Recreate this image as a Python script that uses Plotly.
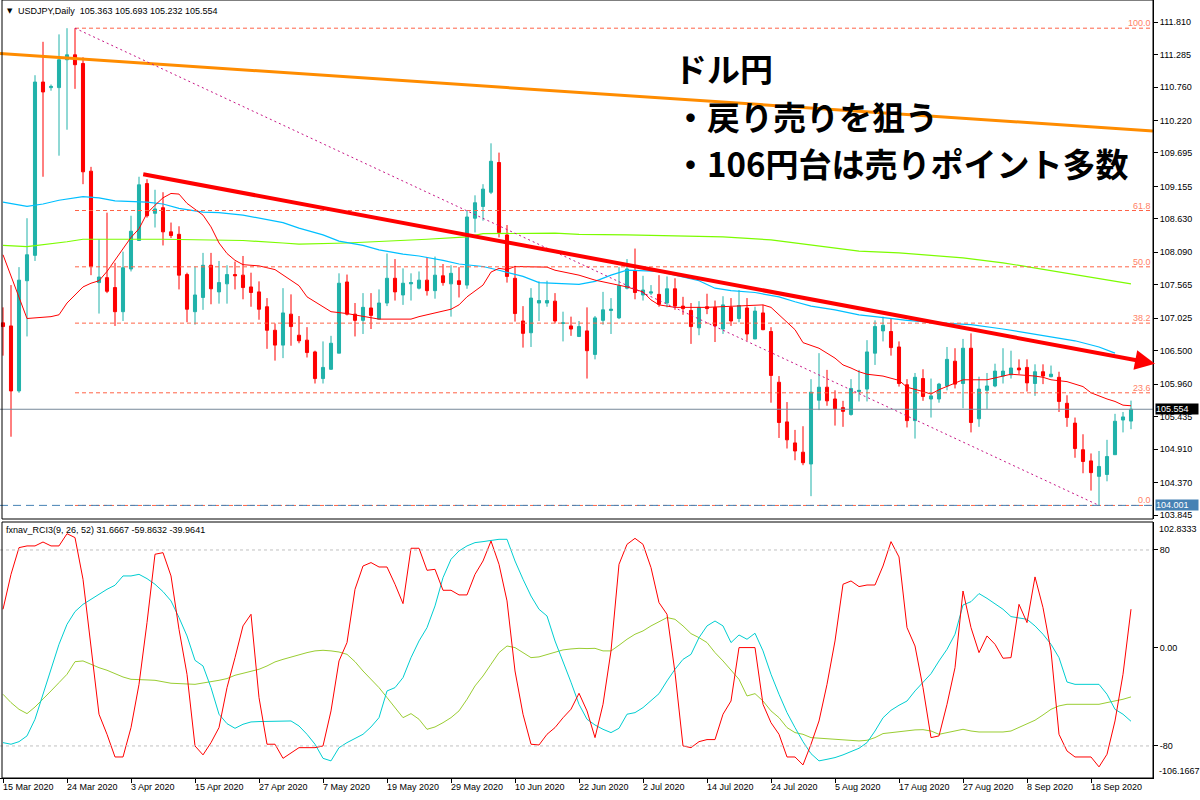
import plotly.graph_objects as go

# ---------------- data ----------------
bar_idx = list(range(142))

date_tick_idx = [0, 8, 16, 24, 32, 40, 48, 56, 64, 72, 80, 88, 96, 104, 112, 120, 128, 136]
date_tick_labels = ["15 Mar 2020", "24 Mar 2020", "3 Apr 2020", "15 Apr 2020", "27 Apr 2020",
                    "7 May 2020", "19 May 2020", "29 May 2020", "10 Jun 2020", "22 Jun 2020",
                    "2 Jul 2020", "14 Jul 2020", "24 Jul 2020", "5 Aug 2020", "17 Aug 2020",
                    "27 Aug 2020", "8 Sep 2020", "18 Sep 2020"]

price_ticks = [111.810, 111.285, 110.760, 110.220, 109.695, 109.155, 108.630, 108.090,
               107.565, 107.025, 106.500, 105.960, 105.435, 104.910, 104.370, 103.845]

opens = [106.95,106.90,105.85,107.63,108.04,110.84,110.75,110.75,111.20,111.28,
         111.14,109.40,107.60,107.68,107.52,107.13,107.82,108.28,109.20,108.72,
         108.81,108.42,108.38,107.73,107.13,107.36,107.88,107.45,107.58,107.73,
         107.72,107.53,107.45,107.21,106.83,106.59,107.09,106.75,106.67,106.48,
         106.05,106.20,106.46,107.61,107.09,106.99,107.19,107.01,107.27,107.67,
         107.40,107.58,107.51,107.64,107.47,107.71,107.58,107.63,107.56,108.64,
         108.83,109.06,109.54,108.37,107.67,106.98,106.79,107.27,107.27,107.30,
         106.94,106.90,106.73,106.82,106.44,106.99,107.15,107.03,107.51,107.79,
         107.40,107.43,107.41,107.27,107.50,107.22,107.15,106.87,107.21,107.20,
         106.85,107.20,107.02,107.19,106.69,107.11,106.81,105.99,105.35,105.01,
         104.86,104.67,105.70,105.91,105.72,105.58,105.47,105.84,105.88,106.46,
         106.82,106.81,106.56,105.95,105.37,106.05,105.72,105.72,105.93,106.33,
         105.97,106.54,105.40,105.86,105.93,106.09,106.11,106.22,106.23,105.97,
         106.16,106.08,106.07,105.65,105.33,104.90,104.72,104.47,104.50,104.82,
         105.38,105.363]
highs = [107.20,107.56,107.85,108.64,110.95,111.49,110.80,111.61,111.71,111.71,
         111.24,109.47,108.30,108.73,107.92,108.10,108.68,109.31,109.27,109.10,
         109.06,108.57,108.51,107.76,107.86,108.08,108.08,107.95,107.88,107.94,
         108.03,107.76,107.62,107.35,106.94,107.51,107.41,107.06,106.88,106.50,
         106.65,106.74,107.75,107.73,107.27,107.43,107.43,107.49,108.07,107.98,
         107.83,107.75,107.78,108.01,108.02,107.90,107.88,107.85,108.77,109.01,
         109.19,109.85,109.70,108.53,107.87,107.22,107.51,107.62,107.63,107.43,
         107.13,107.05,106.98,107.20,107.06,107.45,107.35,107.85,107.98,108.15,
         107.71,107.56,107.72,107.70,107.67,107.37,107.27,107.30,107.42,107.31,
         107.38,107.35,107.48,107.35,107.21,107.24,106.88,106.09,105.67,105.22,
         105.28,106.04,106.46,106.19,105.86,105.69,106.04,106.19,106.67,106.99,
         107.05,107.02,106.65,106.04,106.14,106.20,106.05,105.98,106.56,106.54,
         106.69,106.78,106.08,106.14,106.29,106.54,106.50,106.36,106.36,106.28,
         106.28,106.26,106.16,105.78,105.42,105.15,104.84,104.88,105.06,105.48,
         105.51,105.693]
lows = [106.42,105.11,105.82,106.73,107.95,109.31,110.70,109.65,110.07,110.73,
        109.19,107.72,107.10,107.43,106.90,106.98,107.78,108.28,108.65,108.49,
        108.20,108.32,107.49,106.96,106.92,107.16,107.25,107.26,107.26,107.49,
        107.33,107.21,107.00,106.53,106.34,106.38,106.58,106.62,106.39,105.97,
        105.97,106.19,106.46,107.07,106.73,106.77,106.85,107.01,107.22,107.31,
        107.24,107.31,107.49,107.39,107.34,107.55,107.05,107.36,107.50,108.41,
        108.60,109.03,108.33,107.60,106.97,106.55,106.56,106.98,107.21,106.94,
        106.65,106.74,106.72,106.05,106.36,106.92,106.77,107.01,107.49,107.33,
        107.31,107.40,107.21,107.20,107.16,107.08,106.61,106.75,107.09,106.64,
        106.77,106.90,106.96,106.66,106.69,106.83,105.66,105.09,104.92,104.73,
        104.65,104.15,105.54,105.61,105.29,105.27,105.45,105.68,105.68,106.27,
        106.65,106.42,105.92,105.26,105.08,105.69,105.42,105.66,105.86,105.89,
        105.57,105.18,105.27,105.56,105.91,105.97,106.05,106.12,105.84,105.77,
        105.96,106.07,105.51,105.27,104.77,104.52,104.24,104.00,104.39,104.82,
        105.18,105.232]
closes = [106.89,105.85,107.64,108.05,110.84,110.68,110.77,111.20,111.28,111.12,
          109.39,107.86,107.69,107.46,107.13,107.84,108.43,109.18,108.68,108.79,
          108.42,108.36,107.72,107.17,107.40,107.88,107.50,107.60,107.73,107.71,
          107.52,107.44,107.17,106.83,106.59,107.11,106.89,106.66,106.47,106.05,
          106.23,106.62,107.59,107.09,106.99,107.20,107.07,107.27,107.67,107.45,
          107.59,107.60,107.64,107.47,107.72,107.60,107.75,107.57,108.66,108.89,
          109.11,109.56,108.41,107.70,107.10,106.78,107.35,107.31,107.31,106.98,
          106.95,106.85,106.89,106.50,107.03,107.16,107.17,107.55,107.82,107.44,
          107.48,107.45,107.25,107.50,107.22,107.18,106.89,107.20,107.18,106.90,
          107.24,106.98,107.23,106.77,107.14,106.84,106.10,105.34,105.06,104.88,
          104.69,105.83,105.91,105.69,105.56,105.52,105.89,105.86,106.48,106.89,
          106.91,106.55,105.97,105.37,106.07,105.76,105.77,105.96,106.36,105.96,
          106.54,105.34,105.88,105.93,106.17,106.17,106.22,106.19,105.98,106.16,
          106.09,106.12,105.68,105.42,104.92,104.71,104.53,104.63,104.79,105.36,
          105.43,105.554]

ma_fast_idx = [0,3,6,7,8,10,11,12,13,14,15,16,17,18,19,20,21,22,23,25,26,27,28,29,30,32,34,35,37,38,
               40,41,43,45,47,51,52,54,56,57,58,60,61,62,63,64,66,68,69,71,72,74,76,78,80,81,82,84,88,90,
               92,95,96,97,99,100,102,104,105,106,107,108,110,112,113,115,116,117,119,120,123,125,126,129,130,
               131,133,135,136,138,139,140,141]
ma_fast_val = [108.05,107.02,107.05,107.08,107.27,107.53,107.59,107.63,107.78,107.96,108.15,108.33,108.47,
               108.72,108.85,108.97,109.04,109.03,108.88,108.69,108.50,108.24,108.07,107.96,107.89,107.87,
               107.81,107.72,107.55,107.37,107.21,107.13,107.10,107.05,107.01,107.01,107.05,107.11,107.17,
               107.24,107.37,107.56,107.77,107.83,107.81,107.86,107.86,107.85,107.80,107.74,107.72,107.64,
               107.59,107.53,107.45,107.32,107.24,107.20,107.20,107.21,107.23,107.24,107.20,107.08,106.84,
               106.63,106.54,106.38,106.27,106.22,106.16,106.12,106.09,106.02,105.91,105.84,105.80,105.87,
               105.98,106.03,106.03,106.09,106.12,106.09,106.07,106.03,106.00,105.92,105.82,105.72,105.68,
               105.62,105.61]

ma_mid_idx = [0,3,5,7,10,12,14,18,20,22,25,27,30,32,35,37,40,42,45,47,50,52,55,57,60,62,65,67,70,72,
              74,76,78,80,82,84,87,89,91,94,97,99,101,104,107,109,113,117,121,125,130,134,137,139]
ma_mid_val = [108.90,108.83,108.87,108.93,108.99,108.97,108.92,108.90,108.87,108.80,108.74,108.73,108.69,
              108.64,108.57,108.48,108.37,108.27,108.20,108.13,108.06,108.03,107.96,107.90,107.86,107.80,
              107.70,107.60,107.58,107.57,107.62,107.72,107.80,107.79,107.78,107.72,107.63,107.51,107.47,
              107.44,107.37,107.29,107.22,107.16,107.08,107.05,106.99,106.95,106.92,106.85,106.75,106.66,
              106.56,106.46]

ma_slow_idx = [0,3,8,10,20,30,35,37,43,45,48,53,58,60,69,72,78,90,96,101,107,112,120,125,131,137,141]
ma_slow_val = [108.20,108.18,108.26,108.30,108.30,108.28,108.24,108.22,108.24,108.25,108.27,108.30,108.34,
               108.39,108.40,108.38,108.37,108.34,108.29,108.21,108.11,108.08,108.00,107.92,107.79,107.66,
               107.58]

long_line_idx = [-0.375, 143.75]
long_line_val = [111.30, 110.05]

trend_idx = [17.34, 144.0]
trend_val = [109.355, 106.29]

fib_anchor_idx = [9, 137]
fib_anchor_val = [111.71, 104.00]
fib_levels = [0.0, 23.6, 38.2, 50.0, 61.8, 100.0]

last_price = 105.554
low_price = 104.001

rci9 = [31.6,60.1,81.9,83.3,83.3,86.5,83.3,83.3,93.3,90.1,
        56.1,0.3,-54.1,-70.5,-89.0,-89.0,-65.0,-29.7,20.7,76.5,
        77.8,58.8,15.2,-21.5,-80.0,-87.3,-77.3,-65.0,-32.4,-7.9,
        18.0,27.5,-40.5,-78.6,-78.6,-90.1,-85.4,-81.4,-81.4,-81.4,
        -80.0,-51.4,-10.6,4.4,47.9,66.9,69.7,66.1,66.1,52.0,
        36.2,81.4,81.4,63.4,64.2,47.1,47.1,43.3,43.3,60.1,
        71.0,87.3,68.3,38.4,-18.8,-54.1,-78.6,-79.2,-70.5,-65.0,
        -57.0,-50.0,-37.0,-51.4,-73.2,-46.0,-2.4,68.3,84.6,89.5,
        84.6,65.6,37.0,27.5,-20.1,-80.0,-81.4,-76.5,-74.8,-74.8,
        -54.1,-43.3,0.3,0.3,0.3,-46.0,-61.0,-70.5,-89.0,-89.0,
        -95.5,-78.6,-59.6,-29.7,5.7,52.0,54.7,50.1,51.4,51.4,
        66.9,86.8,74.3,16.6,1.6,-32.4,-73.2,-71.8,-46.0,-16.1,
        46.5,16.6,-3.8,9.8,3.0,-8.4,-7.9,35.6,20.7,58.0,
        32.9,-2.4,-70.5,-84.1,-89.0,-89.0,-89.0,-97.1,-86.8,-59.6,
        -21.5,31.6667]
rci26 = [-77.3,-78.6,-76.5,-71.8,-58.2,-37.8,-16.1,3.0,19.3,29.7,
         35.6,39.7,43.8,47.9,51.2,58.8,58.8,60.1,56.6,52.0,
         46.0,38.4,24.8,9.8,-10.1,-14.7,-32.4,-54.1,-61.8,-65.6,
         -62.3,-60.4,-60.1,-60.1,-60.1,-60.1,-59.6,-63.7,-70.5,-78.6,
         -90.1,-92.2,-81.4,-77.3,-73.7,-70.5,-64.5,-56.9,-35.1,-32.4,
         -24.2,-7.9,5.7,16.6,34.3,57.4,72.4,79.2,83.3,86.0,
         86.8,87.9,88.7,88.7,71.0,56.1,42.4,31.6,26.1,5.7,
         -10.6,-28.0,-46.0,-58.2,-62.9,-66.4,-69.1,-65.6,-54.1,-52.8,
         -48.7,-43.3,-37.3,-26.9,-17.4,-9.3,-5.2,8.4,18.0,22.0,
         18.0,4.4,10.6,7.1,12.0,-2.4,-21.5,-37.8,-52.8,-65.0,
         -76.5,-86.3,-92.2,-90.9,-89.5,-87.3,-84.6,-81.9,-77.3,-67.8,
         -57.0,-50.9,-46.8,-43.3,-35.1,-28.3,-21.0,-10.6,-1.1,11.2,
         35.1,37.8,44.4,40.5,36.2,31.6,25.6,24.8,23.4,18.0,
         11.2,3.0,-7.9,-27.8,-29.7,-29.7,-29.7,-29.7,-37.8,-50.1,
         -54.1,-59.8632]
rci52 = [-37.8,-44.6,-50.1,-53.6,-48.2,-41.9,-35.1,-28.3,-21.5,-11.2,
         -10.6,-13.3,-16.1,-18.2,-21.0,-23.7,-25.6,-25.6,-26.1,-26.4,
         -27.5,-28.8,-29.1,-29.7,-29.7,-28.6,-27.8,-26.4,-25.0,-22.3,
         -20.7,-18.8,-17.4,-14.7,-11.4,-9.3,-7.3,-5.2,-3.8,-2.4,
         -1.9,-2.4,-3.3,-5.2,-11.2,-18.8,-25.6,-32.4,-40.5,-48.7,
         -56.9,-53.6,-58.2,-66.4,-64.5,-61.0,-56.9,-51.4,-41.9,-31.0,
         -22.9,-13.3,-3.8,1.6,0.3,-3.8,-7.9,-7.3,-5.4,-3.0,
         -1.6,-0.8,-0.3,-0.5,-0.3,-2.4,-2.4,2.2,7.1,11.2,
         13.9,18.0,21.5,24.8,23.4,18.0,11.7,8.4,4.4,-3.8,
         -10.6,-18.2,-25.6,-39.2,-37.3,-43.3,-51.4,-56.9,-65.0,-69.1,
         -70.5,-73.2,-73.7,-74.3,-74.6,-75.1,-75.4,-75.9,-75.4,-73.2,
         -69.9,-69.1,-68.3,-67.8,-66.9,-66.7,-67.8,-70.5,-69.1,-68.3,
         -66.4,-67.8,-68.6,-68.6,-68.6,-68.6,-67.8,-65.0,-62.3,-59.0,
         -54.7,-50.1,-47.3,-46.0,-46.0,-46.0,-46.0,-46.0,-44.6,-43.3,
         -41.9,-39.9641]
rci_ticks = [80, 0, -80]
rci_tick_labels = ["80", "0.00", "-80"]
rci_bounds = [-106.1667, 102.8333]
rci_levels = [80, -80]

headline = ["ドル円", "・戻り売りを狙う", "・106円台は売りポイント多数"]

# ---------------- layout constants ----------------
W, H = 1200, 800
ML, MR, MT, MB = 0, 47, 0, 22
PH = H - MT - MB              # 778
PW = W - ML - MR              # 1153
main_dom = [1 - 519 / PH, 1]
rci_dom = [0, 1 - 522 / PH]
x_range = [-0.375, 143.75]
y_range = [103.781, 112.1654]
FONT = "Liberation Sans, Arial, sans-serif"

fig = go.Figure()

# long-term line
fig.add_trace(go.Scatter(x=long_line_idx, y=long_line_val, mode="lines",
                         line=dict(color="#FF8C00", width=3), xaxis="x", yaxis="y", hoverinfo="skip"))

# candles
fig.add_trace(go.Candlestick(x=bar_idx, open=opens, high=highs, low=lows, close=closes,
                             increasing=dict(line=dict(color="#20B2AA", width=1), fillcolor="#20B2AA"),
                             decreasing=dict(line=dict(color="#FF0000", width=1), fillcolor="#FF0000"),
                             whiskerwidth=0, xaxis="x", yaxis="y", hoverinfo="skip"))

# moving averages
fig.add_trace(go.Scatter(x=ma_slow_idx, y=ma_slow_val, mode="lines",
                         line=dict(color="#7CFC00", width=1.2), xaxis="x", yaxis="y", hoverinfo="skip"))
fig.add_trace(go.Scatter(x=ma_mid_idx, y=ma_mid_val, mode="lines",
                         line=dict(color="#00BFFF", width=1.2), xaxis="x", yaxis="y", hoverinfo="skip"))
fig.add_trace(go.Scatter(x=ma_fast_idx, y=ma_fast_val, mode="lines",
                         line=dict(color="#FF0000", width=1), xaxis="x", yaxis="y", hoverinfo="skip"))

# RCI
fig.add_trace(go.Scatter(x=bar_idx, y=rci52, mode="lines",
                         line=dict(color="#9ACD32", width=1), xaxis="x", yaxis="y2", hoverinfo="skip"))
fig.add_trace(go.Scatter(x=bar_idx, y=rci26, mode="lines",
                         line=dict(color="#00CED1", width=1), xaxis="x", yaxis="y2", hoverinfo="skip"))
fig.add_trace(go.Scatter(x=bar_idx, y=rci9, mode="lines",
                         line=dict(color="#FF0000", width=1), xaxis="x", yaxis="y2", hoverinfo="skip"))

shapes = []
# fibonacci levels
fib_span = fib_anchor_val[0] - fib_anchor_val[1]
for lv in fib_levels:
    yv = fib_anchor_val[1] + fib_span * lv / 100.0
    shapes.append(dict(type="line", xref="x", yref="y", x0=fib_anchor_idx[0], x1=x_range[1],
                       y0=yv, y1=yv, line=dict(color="#FF6347", width=1, dash="4px,3px")))
# fib diagonal
shapes.append(dict(type="line", xref="x", yref="y", x0=fib_anchor_idx[0], x1=fib_anchor_idx[1],
                   y0=fib_anchor_val[0], y1=fib_anchor_val[1],
                   line=dict(color="#C71585", width=1, dash="2px,3px")))
# price lines
shapes.append(dict(type="line", xref="paper", yref="y", x0=0, x1=1, y0=last_price, y1=last_price,
                   line=dict(color="#778899", width=1)))
shapes.append(dict(type="line", xref="paper", yref="y", x0=0, x1=1, y0=low_price, y1=low_price,
                   line=dict(color="#4682B4", width=1, dash="8px,5px")))
# RCI levels
for lv in rci_levels:
    shapes.append(dict(type="line", xref="paper", yref="y2", x0=0, x1=1, y0=lv, y1=lv,
                       line=dict(color="#C0C0C0", width=1, dash="3px,3px")))
# pane borders
shapes.append(dict(type="rect", xref="paper", yref="paper", x0=2 / PW, x1=1, y0=main_dom[0], y1=1,
                   line=dict(color="black", width=1)))
shapes.append(dict(type="rect", xref="paper", yref="paper", x0=2 / PW, x1=1, y0=rci_dom[0], y1=rci_dom[1],
                   line=dict(color="black", width=1)))

annotations = []
# fib labels
for lv in fib_levels:
    yv = fib_anchor_val[1] + fib_span * lv / 100.0
    annotations.append(dict(x=1, xref="paper", y=yv, yref="y", text=f"{lv:.1f}", showarrow=False,
                            xanchor="right", yanchor="bottom", xshift=-1, yshift=-1,
                            font=dict(family=FONT, size=9, color="#FF7F66"), borderpad=0))
# trend arrow
annotations.append(dict(x=trend_idx[1], y=trend_val[1], xref="x", yref="y",
                        ax=trend_idx[0], ay=trend_val[0], axref="x", ayref="y",
                        showarrow=True, arrowhead=2, arrowsize=1, arrowwidth=4,
                        arrowcolor="#FF0000", standoff=0, text=""))
# headline text
for k, (txt, ypx) in enumerate(zip(headline, [68, 116, 163])):
    annotations.append(dict(x=672 / PW, y=1 - ypx / PH, xref="paper", yref="paper",
                            text=f"<b>{txt}</b>", showarrow=False, xanchor="left", yanchor="middle",
                            font=dict(family="Noto Sans CJK JP", size=33, color="black")))
# header texts
annotations.append(dict(x=5 / PW, y=1 - 11 / PH, xref="paper", yref="paper", text="▼",
                        showarrow=False, xanchor="left", yanchor="middle",
                        font=dict(family="DejaVu Sans", size=7, color="black")))
annotations.append(dict(x=16 / PW, y=1 - 11 / PH, xref="paper", yref="paper",
                        text=f"USDJPY,Daily  {opens[-1]:.3f} {highs[-1]:.3f} {lows[-1]:.3f} {closes[-1]:.3f}",
                        showarrow=False, xanchor="left", yanchor="middle",
                        font=dict(family=FONT, size=9, color="black")))
annotations.append(dict(x=4 / PW, y=1 - 530 / PH, xref="paper", yref="paper",
                        text=f"fxnav_RCI3(9, 26, 52) {rci9[-1]:.4f} {rci26[-1]:.4f} {rci52[-1]:.4f}",
                        showarrow=False, xanchor="left", yanchor="middle",
                        font=dict(family=FONT, size=9, color="black")))
# price boxes
annotations.append(dict(x=1, xref="paper", y=last_price, yref="y", text=f"{last_price:.3f}",
                        showarrow=False, xanchor="left", yanchor="middle", xshift=2,
                        bgcolor="black", font=dict(family=FONT, size=9, color="white"),
                        borderpad=0, width=42, align="left"))
annotations.append(dict(x=1, xref="paper", y=low_price, yref="y", text=f"{low_price:.3f}",
                        showarrow=False, xanchor="left", yanchor="middle", xshift=2,
                        bgcolor="#4682B4", font=dict(family=FONT, size=9, color="white"),
                        borderpad=0, width=42, align="left"))
# RCI extreme labels
annotations.append(dict(x=1, xref="paper", y=rci_bounds[1], yref="y2", text=f"{rci_bounds[1]:.4f}",
                        showarrow=False, xanchor="left", yanchor="top", xshift=5, yshift=-1,
                        font=dict(family=FONT, size=9, color="black"), borderpad=0))
annotations.append(dict(x=1, xref="paper", y=rci_bounds[0], yref="y2", text=f"{rci_bounds[0]:.4f}",
                        showarrow=False, xanchor="left", yanchor="bottom", xshift=5, yshift=1,
                        font=dict(family=FONT, size=9, color="black"), borderpad=0))
# date labels
for ti, tl in zip(date_tick_idx, date_tick_labels):
    annotations.append(dict(x=ti, xref="x", y=0, yref="paper", text=tl, showarrow=False,
                            xanchor="left", yanchor="top", xshift=-1, yshift=-3,
                            font=dict(family=FONT, size=9, color="black"), borderpad=0))

fig.update_layout(
    width=W, height=H,
    margin=dict(l=ML, r=MR, t=MT, b=MB),
    paper_bgcolor="white", plot_bgcolor="white",
    showlegend=False, hovermode=False,
    font=dict(family=FONT, size=9, color="black"),
    boxgap=0.45,
    xaxis=dict(domain=[0, 1], range=x_range, anchor="y2", showgrid=False, zeroline=False,
               showline=True, linecolor="black", linewidth=1,
               tickmode="array", tickvals=date_tick_idx, showticklabels=False,
               ticks="outside", ticklen=4, tickcolor="black",
               rangeslider=dict(visible=False), fixedrange=True),
    yaxis=dict(domain=main_dom, range=y_range, side="right", anchor="x",
               showgrid=False, zeroline=False, showline=True, linecolor="black", linewidth=1,
               tickmode="array", tickvals=price_ticks, ticktext=[f"{v:.3f}" for v in price_ticks],
               ticks="outside", ticklen=4, tickcolor="black",
               tickfont=dict(family=FONT, size=9, color="black")),
    yaxis2=dict(domain=rci_dom, range=rci_bounds, side="right", anchor="x",
                showgrid=False, zeroline=False, showline=True, linecolor="black", linewidth=1,
                tickmode="array", tickvals=rci_ticks, ticktext=rci_tick_labels,
                ticks="outside", ticklen=4, tickcolor="black",
                tickfont=dict(family=FONT, size=9, color="black")),
    shapes=shapes,
    annotations=annotations,
)

fig.write_html("out.html")
